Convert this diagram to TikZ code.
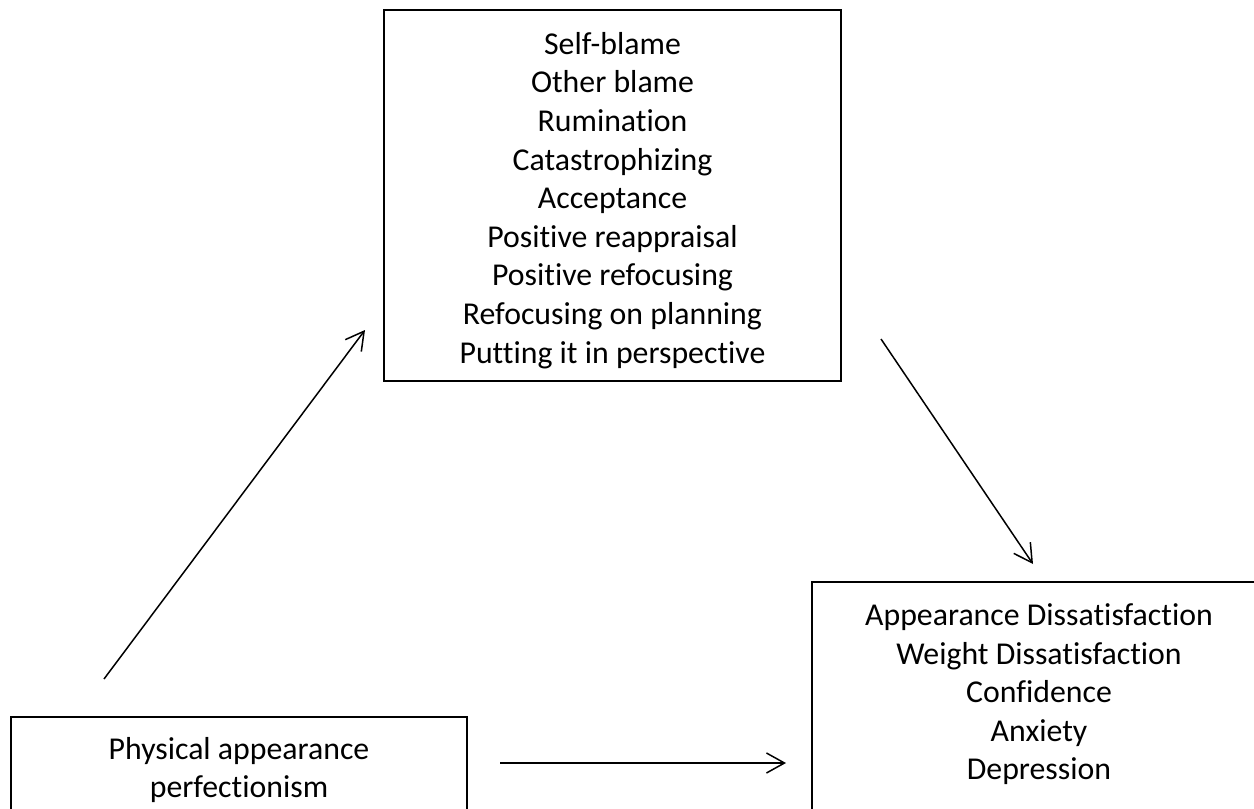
\documentclass[tikz,border=0pt]{standalone}
\usepackage{fontspec}
\setmainfont{Carlito}[Ligatures={NoCommon,NoContextual}]
\usetikzlibrary{arrows.meta,positioning,calc}

\begin{document}
\begin{tikzpicture}[x=0.5pt, y=-0.5pt,
  box/.style={draw, line width=1pt, align=center, inner sep=0pt, font=\fontsize{15.9}{19.3}\selectfont},
  arr/.style={-{Straight Barb[length=9pt,width=10pt]}, line width=0.75pt}]
\useasboundingbox (0,0) rectangle (1254,809);
\clip (0,0) rectangle (1254,809);

% Coping strategies
\node[box, minimum width=228.5pt, minimum height=185.5pt] (strat) at (612.5,195.5)
  {\rule{0pt}{16pt}Self-blame\\Other blame\\Rumination\\Catastrophizing\\Acceptance\\Positive reappraisal\\Positive refocusing\\Refocusing on planning\\Putting it in perspective};

% Predictor
\node[box, minimum width=228pt, minimum height=53pt] (phys) at (239,770)
  {Physical appearance\\perfectionism};

% Outcomes
\node[box, minimum width=227pt, minimum height=134.75pt] (outc) at (1039,716.75)
  {Appearance Dissatisfaction\\Weight Dissatisfaction\\Confidence\\Anxiety\\Depression\\\strut};

% Arrows
\coordinate (upstart) at ($(phys.north west)+(94,-37)$);
\coordinate (upend) at ($(strat.south west)+(-18,-52)$);
\coordinate (dnstart) at ($(strat.south east)+(39,-43)$);
\coordinate (dnend) at ($(outc.north west)+(222,-17)$);
\coordinate (hstart) at ($(phys.east)+(32,-7)$);
\draw[arr] (upstart) -- (upend);
\draw[arr] (dnstart) -- (dnend);
\draw[arr, shorten >=12.5pt] (hstart) -- (hstart -| outc.west);
\end{tikzpicture}
\end{document}
